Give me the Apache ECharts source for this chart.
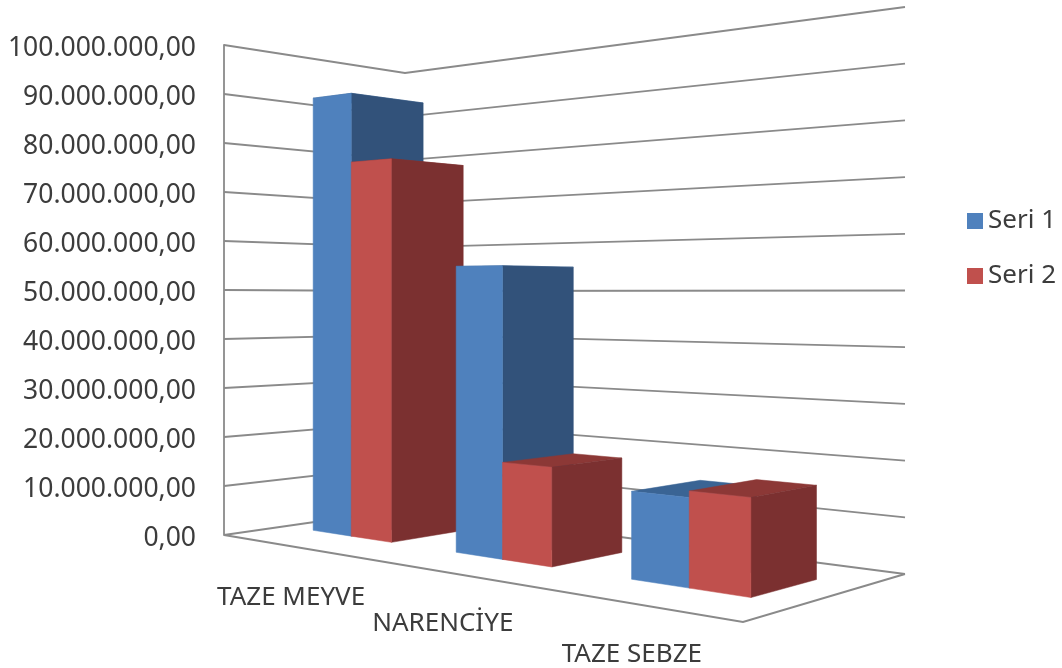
<!DOCTYPE html>
<html><head><meta charset="utf-8">
<style>html,body{margin:0;padding:0;background:#fff}#c{width:1062px;height:668px}</style>
<script src="https://cdn.jsdelivr.net/npm/echarts@6/dist/echarts.min.js"></script>
</head><body><div id="c"></div>
<script>
const categories = ['TAZE MEYVE', 'NARENCİYE', 'TAZE SEBZE'];
const seri1 = [90000000, 54500000, 15200000];
const seri2 = [76000000, 18000000, 16300000];
const gridValues = [0, 10000000, 20000000, 30000000, 40000000, 50000000, 60000000, 70000000, 80000000, 90000000, 100000000];

const LEFT = 224, RIGHT = 905, TOP = 45, BOTTOM = 535;
const GREY = '#8a8a8a', TEXT = '#3c3c3c', FONT = '"Noto Sans", sans-serif';
const V_FRONT = 0.315, V_BACK = 0.715, GAP = 1.5;

// Perspective box: floor corners on screen -> homography, heights shrink with depth
const c00 = [224, 535], c10 = [743, 622], c11 = [905, 574], c01 = [405, 509];
const fullHeight = BOTTOM - TOP;
const dx1 = c10[0] - c11[0], dx2 = c01[0] - c11[0], sx = c00[0] - c10[0] + c11[0] - c01[0];
const dy1 = c10[1] - c11[1], dy2 = c01[1] - c11[1], sy = c00[1] - c10[1] + c11[1] - c01[1];
const det = dx1 * dy2 - dx2 * dy1;
const hp = (sx * dy2 - dx2 * sy) / det, hq = (dx1 * sy - sx * dy1) / det;
const wallRight = 567, wallBack = 436; // on-screen wall heights at the far corners
const hq2 = fullHeight / wallBack - 1, hp2 = fullHeight / wallRight - 1 - hq2;
function project(u, v, w) {
  const d = 1 + hp * u + hq * v;
  const d2 = 1 + hp2 * u + hq2 * v;
  const x = ((c10[0] - c00[0] + hp * c10[0]) * u + (c01[0] - c00[0] + hq * c01[0]) * v + c00[0]) / d;
  const y = ((c10[1] - c00[1] + hp * c10[1]) * u + (c01[1] - c00[1] + hq * c01[1]) * v + c00[1]) / d - w * fullHeight / d2;
  return [x, y];
}
function heightOf(api, cs, value) {
  return (cs.y + cs.height - api.coord([0, value])[1]) / cs.height;
}
const tickText = v => {
  const s = String(Math.round(v)).replace(/\B(?=(\d{3})+(?!\d))/g, '.');
  return s === '0' ? '0,00' : s + ',00';
};

function barRenderer(seriesIndex, colors) {
  return function (params, api) {
    const cs = params.coordSys;
    const cat = api.value(0);
    const band = api.size([1, 0])[0];
    const barW = band / (2 + GAP);
    const x0 = api.coord([cat, 0])[0] - barW + seriesIndex * barW;
    const u0 = (x0 - cs.x) / cs.width, u1 = (x0 + barW - cs.x) / cs.width;
    const w = heightOf(api, cs, api.value(1));
    const z2 = cat * 10 + seriesIndex * 3;
    const poly = (pts, fill, dz) => ({
      type: 'polygon', z2: z2 + dz,
      shape: { points: pts },
      style: { fill: fill, stroke: fill, lineWidth: 0.5 }
    });
    return {
      type: 'group',
      children: [
        poly([project(u0, V_FRONT, w), project(u1, V_FRONT, w), project(u1, V_BACK, w), project(u0, V_BACK, w)], colors.top, 0),
        poly([project(u1, V_FRONT, 0), project(u1, V_BACK, 0), project(u1, V_BACK, w), project(u1, V_FRONT, w)], colors.side, 1),
        poly([project(u0, V_FRONT, 0), project(u1, V_FRONT, 0), project(u1, V_FRONT, w), project(u0, V_FRONT, w)], colors.front, 2)
      ]
    };
  };
}
const blue = { front: '#4F81BD', side: '#32527A', top: '#3A6494' };
const red = { front: '#C0504D', side: '#7B3030', top: '#8C3836' };

const chart = echarts.init(document.getElementById('c'), null, { renderer: 'canvas' });
chart.setOption({
  animation: false,
  backgroundColor: '#fff',
  grid: { left: LEFT, top: TOP, width: RIGHT - LEFT, height: BOTTOM - TOP },
  legend: {
    data: ['Seri 1', 'Seri 2'], orient: 'vertical', left: 962, top: 203,
    icon: 'rect', itemWidth: 16, itemHeight: 16, itemGap: 29,
    textStyle: { fontFamily: FONT, fontSize: 26, color: TEXT }
  },
  xAxis: { type: 'category', data: categories, show: false },
  yAxis: {
    type: 'value', min: 0, max: 100000000, interval: 10000000,
    axisLine: { show: true, lineStyle: { color: GREY, width: 1.8 } },
    axisTick: { show: false }, splitLine: { show: false },
    axisLabel: { formatter: tickText, margin: 28, color: TEXT, fontFamily: FONT, fontSize: 26.5, verticalAlign: 'top', lineHeight: 6 }
  },
  series: [
    {
      type: 'custom', name: 'walls', z: 1, silent: true,
      data: gridValues.map(v => [0, v]), encode: { x: 0, y: 1 },
      renderItem(params, api) {
        const w = heightOf(api, params.coordSys, api.value(1));
        return {
          type: 'polyline',
          shape: { points: [project(0, 0, w), project(0, 1, w), project(1, 1, w)] },
          style: { fill: 'none', stroke: GREY, lineWidth: 1.8 }
        };
      }
    },
    {
      type: 'custom', name: 'floor', z: 1, silent: true,
      data: [[0, 0]], encode: { x: 0, y: 1 },
      renderItem() {
        return {
          type: 'polyline',
          shape: { points: [project(0, 0, 0), project(1, 0, 0), project(1, 1, 0)] },
          style: { fill: 'none', stroke: GREY, lineWidth: 2 }
        };
      }
    },
    {
      type: 'custom', name: 'Seri 1', z: 2, itemStyle: { color: blue.front },
      data: seri1.map((v, i) => [i, v]), encode: { x: 0, y: 1 },
      renderItem: barRenderer(0, blue)
    },
    {
      type: 'custom', name: 'Seri 2', z: 2, itemStyle: { color: red.front },
      data: seri2.map((v, i) => [i, v]), encode: { x: 0, y: 1 },
      renderItem: barRenderer(1, red)
    },
    {
      type: 'custom', name: 'labels', z: 3, silent: true,
      data: categories.map((c, i) => [i, 0]), encode: { x: 0, y: 1 },
      renderItem(params, api) {
        const cs = params.coordSys;
        const i = api.value(0);
        const p = project((api.coord([i, 0])[0] - cs.x) / cs.width, 0, 0);
        return {
          type: 'text',
          style: {
            x: p[0] + 2, y: p[1] + 52, text: categories[i], align: 'center', verticalAlign: 'middle',
            fill: TEXT, font: '26px ' + FONT
          }
        };
      }
    }
  ]
});
</script></body></html>
